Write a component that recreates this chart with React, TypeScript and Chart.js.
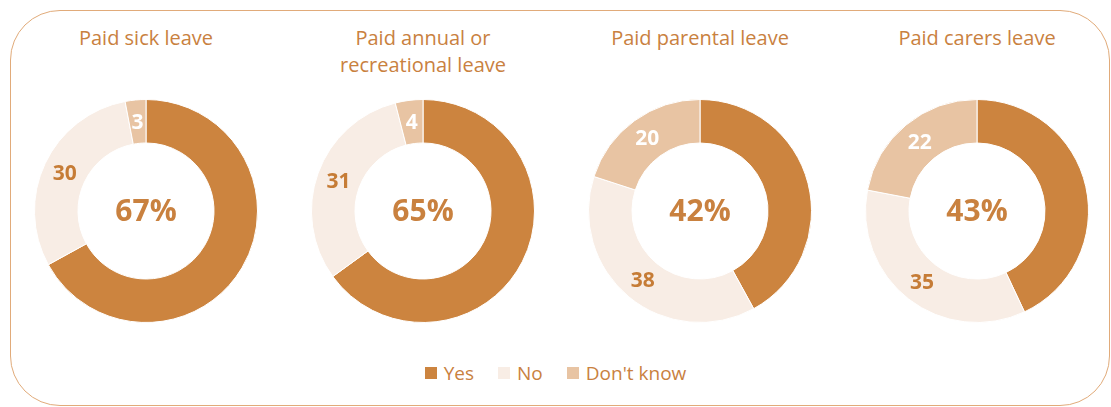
import React, { useEffect, useRef } from "react";
import { Chart, registerables } from "chart.js";

Chart.register(...registerables);

const categories = ["Yes", "No", "Don't know"];
const titles: string[][] = [
  ["Paid sick leave"],
  ["Paid annual or", "recreational leave"],
  ["Paid parental leave"],
  ["Paid carers leave"],
];
const yesValues = [67, 65, 42, 43];
const noValues = [30, 31, 38, 35];
const dontKnowValues = [3, 4, 20, 22];

const sliceColors = ["#CC843F", "#F8EDE5", "#E8C4A3"];
const labelColors = [null, "#C67C36", "#FFFFFF"];
const textColor = "#C9813F";
const FONT = "'Open Sans', 'Noto Sans', sans-serif";

const centers = [146, 423, 700, 977];
const CY = 211;
const BOX = 240;

const donutLabels = {
  id: "donutLabels",
  afterDatasetsDraw(chart: any) {
    const ctx = chart.ctx;
    const meta = chart.getDatasetMeta(0);
    const ds = chart.data.datasets[0];
    ctx.save();
    ctx.textAlign = "center";
    ctx.textBaseline = "middle";
    meta.data.forEach((arc: any, i: number) => {
      const col = labelColors[i];
      if (!col) return;
      const p = arc.tooltipPosition();
      ctx.fillStyle = col;
      ctx.font = `bold 21px ${FONT}`;
      ctx.fillText(String(ds.data[i]), p.x, p.y + 1);
    });
    const first = meta.data[0];
    if (first) {
      ctx.fillStyle = textColor;
      ctx.font = `bold 30px ${FONT}`;
      ctx.fillText(`${ds.data[0]}%`, first.x, first.y + 1);
    }
    ctx.restore();
  },
};

function Donut({ index }: { index: number }) {
  const ref = useRef<HTMLCanvasElement | null>(null);
  useEffect(() => {
    if (!ref.current) return;
    const chart = new Chart(ref.current, {
      type: "doughnut",
      data: {
        labels: categories,
        datasets: [
          {
            data: [yesValues[index], noValues[index], dontKnowValues[index]],
            backgroundColor: sliceColors,
            borderColor: "#FFFFFF",
            borderWidth: 1,
          },
        ],
      },
      options: {
        responsive: false,
        maintainAspectRatio: false,
        animation: false,
        cutout: "61%",
        layout: { padding: 8 },
        plugins: {
          legend: { display: false },
          tooltip: { enabled: false },
          title: { display: false },
        },
      },
      plugins: [donutLabels],
    });
    return () => chart.destroy();
  }, [index]);
  return (
    <canvas
      ref={ref}
      width={BOX}
      height={BOX}
      style={{
        position: "absolute",
        left: centers[index] - BOX / 2,
        top: CY - BOX / 2,
        width: BOX,
        height: BOX,
      }}
    />
  );
}

export default function App() {
  return (
    <div
      style={{
        position: "absolute",
        left: 0,
        top: 0,
        width: 1111,
        height: 407,
        background: "#FFFFFF",
        overflow: "hidden",
        fontFamily: FONT,
      }}
    >
      <div
        style={{
          position: "absolute",
          left: 10,
          top: 10,
          width: 1100,
          height: 396,
          boxSizing: "border-box",
          border: "1.5px solid #E1AB7A",
          borderRadius: 50,
        }}
      />
      {titles.map((lines, i) => (
        <div
          key={i}
          style={{
            position: "absolute",
            left: centers[i] - 130,
            width: 260,
            top: 24,
            textAlign: "center",
            color: textColor,
            fontSize: 20,
            lineHeight: "27px",
          }}
        >
          {lines.map((l, j) => (
            <div key={j}>{l}</div>
          ))}
        </div>
      ))}
      {centers.map((_, i) => (
        <Donut key={i} index={i} />
      ))}
      <div
        style={{
          position: "absolute",
          left: 0,
          width: 1111,
          top: 360,
          height: 26,
          display: "flex",
          justifyContent: "center",
          alignItems: "center",
        }}
      >
        <div style={{ display: "flex", alignItems: "center", gap: 24 }}>
          {categories.map((c, i) => (
            <div key={c} style={{ display: "flex", alignItems: "center" }}>
              <span
                style={{
                  display: "inline-block",
                  width: 12,
                  height: 12,
                  background: sliceColors[i],
                  marginRight: 7,
                }}
              />
              <span style={{ color: textColor, fontSize: 19, lineHeight: "26px" }}>{c}</span>
            </div>
          ))}
        </div>
      </div>
    </div>
  );
}
